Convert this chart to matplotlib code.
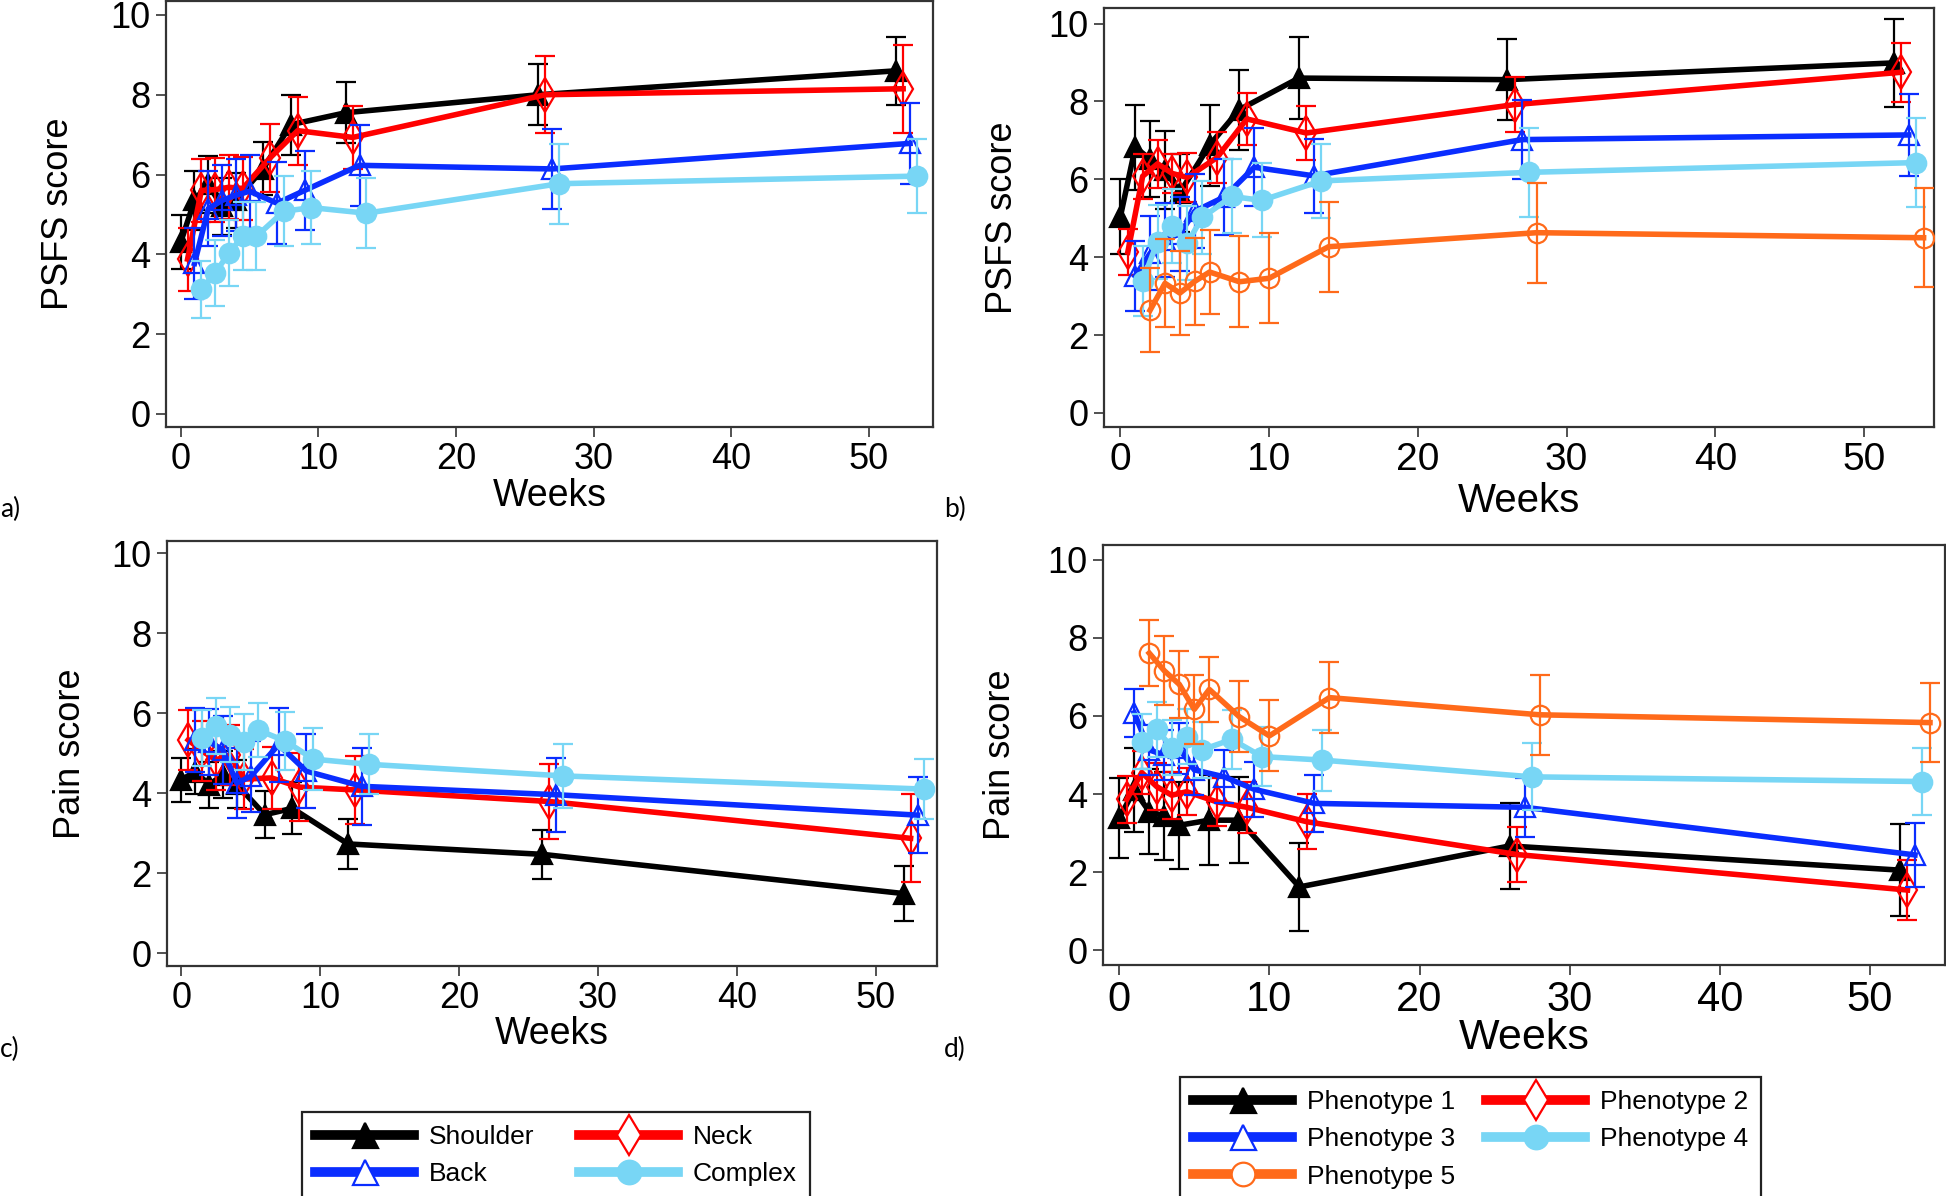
import matplotlib
matplotlib.use("Agg")
import matplotlib.pyplot as plt
from matplotlib.lines import Line2D

plt.rcParams['font.family'] = ['Liberation Sans', 'DejaVu Sans']

weeks = [0, 1, 2, 3, 4, 6, 8, 12, 26, 52]

# a) PSFS by region
psfs_shoulder = [4.3, 5.35, 5.75, 5.2, 5.35, 6.15, 7.25, 7.55, 8.0, 8.6]
psfs_shoulder_err = [0.68, 0.74, 0.71, 0.72, 0.7, 0.67, 0.75, 0.77, 0.77, 0.85]
psfs_neck = [3.88, 5.6, 5.62, 5.68, 5.65, 6.42, 7.1, 6.93, 8.0, 8.15]
psfs_neck_err = [0.79, 0.8, 0.8, 0.8, 0.8, 0.85, 0.85, 0.8, 0.97, 1.1]
psfs_back = [3.77, 5.14, 5.35, 5.48, 5.58, 5.28, 5.6, 6.23, 6.14, 6.78]
psfs_back_err = [0.9, 0.94, 0.88, 0.9, 0.92, 1.03, 1.0, 1.02, 1.0, 1.02]
psfs_complex = [3.12, 3.53, 4.03, 4.45, 4.45, 5.08, 5.17, 5.03, 5.77, 5.96]
psfs_complex_err = [0.71, 0.83, 0.83, 0.85, 0.85, 0.88, 0.92, 0.88, 1.0, 0.93]

# b) PSFS by phenotype
psfs_p1 = [5.04, 6.82, 6.52, 6.25, 5.66, 6.88, 7.79, 8.6, 8.56, 8.99]
psfs_p1_err = [0.96, 1.09, 0.98, 1.0, 1.0, 1.04, 1.03, 1.05, 1.04, 1.12]
psfs_p2 = [4.13, 6.08, 6.4, 6.15, 6.05, 6.56, 7.55, 7.19, 7.92, 8.75]
psfs_p2_err = [0.59, 0.58, 0.62, 0.51, 0.62, 0.65, 0.67, 0.69, 0.7, 0.76]
psfs_p3 = [3.52, 4.1, 4.45, 4.6, 5.18, 5.55, 6.31, 6.09, 7.02, 7.14]
psfs_p3_err = [0.89, 0.95, 0.95, 0.95, 0.95, 0.97, 1.0, 0.95, 1.02, 1.06]
psfs_p4 = [3.4, 4.4, 4.79, 4.36, 5.02, 5.56, 5.46, 5.96, 6.18, 6.43]
psfs_p4_err = [0.9, 0.95, 0.95, 0.95, 0.95, 0.95, 0.95, 0.96, 1.15, 1.14]
psfs_p5 = [2.64, 3.33, 3.08, 3.38, 3.62, 3.37, 3.46, 4.27, 4.63, 4.5]
psfs_p5_err = [1.08, 1.13, 1.07, 1.11, 1.08, 1.17, 1.15, 1.16, 1.28, 1.27]

# c) pain by region
pain_shoulder = [4.33, 4.54, 4.21, 4.46, 4.22, 3.46, 3.62, 2.73, 2.47, 1.49]
pain_shoulder_err = [0.55, 0.56, 0.58, 0.58, 0.6, 0.59, 0.65, 0.62, 0.62, 0.69]
pain_neck = [5.33, 5.05, 4.83, 4.96, 4.35, 4.38, 4.15, 4.08, 3.79, 2.87]
pain_neck_err = [0.74, 0.75, 0.75, 0.75, 0.75, 0.77, 0.85, 0.86, 0.94, 1.1]
pain_back = [5.33, 5.28, 5.08, 4.25, 4.42, 5.21, 4.55, 4.17, 3.96, 3.45]
pain_back_err = [0.8, 0.82, 0.85, 0.88, 0.88, 0.92, 0.92, 0.96, 0.93, 0.95]
pain_complex = [5.38, 5.68, 5.46, 5.27, 5.58, 5.3, 4.85, 4.72, 4.43, 4.1]
pain_complex_err = [0.7, 0.69, 0.68, 0.7, 0.68, 0.72, 0.77, 0.75, 0.79, 0.75]

# d) pain by phenotype
pain_p1 = [3.38, 4.1, 3.55, 3.44, 3.2, 3.33, 3.33, 1.62, 2.67, 2.05]
pain_p1_err = [1.03, 1.07, 1.09, 1.13, 1.11, 1.16, 1.1, 1.13, 1.1, 1.18]
pain_p2 = [3.86, 4.55, 4.19, 3.97, 4.06, 3.8, 3.66, 3.29, 2.45, 1.54]
pain_p2_err = [0.59, 0.56, 0.6, 0.6, 0.6, 0.62, 0.65, 0.71, 0.7, 0.77]
pain_p3 = [6.08, 5.13, 5.0, 5.17, 4.62, 4.44, 4.12, 3.76, 3.66, 2.44]
pain_p3_err = [0.62, 0.65, 0.65, 0.65, 0.65, 0.68, 0.7, 0.73, 0.76, 0.82]
pain_p4 = [5.34, 5.66, 5.19, 5.47, 5.13, 5.4, 4.96, 4.87, 4.44, 4.32]
pain_p4_err = [0.7, 0.7, 0.7, 0.7, 0.72, 0.75, 0.75, 0.78, 0.86, 0.86]
pain_p5 = [7.61, 7.16, 6.81, 6.17, 6.68, 5.98, 5.49, 6.47, 6.03, 5.83]
pain_p5_err = [0.84, 0.88, 0.85, 0.88, 0.84, 0.91, 0.91, 0.91, 1.02, 1.01]

region_labels = ['Shoulder', 'Neck', 'Back', 'Complex']
phenotype_labels = ['Phenotype 1', 'Phenotype 2', 'Phenotype 3', 'Phenotype 4', 'Phenotype 5']

# colour, marker, filled, x-offset (weeks) for each series slot
styles = [
    ('#000000', '^', True, 0.0),
    ('#ff0000', 'd', False, 0.5),
    ('#0a2dff', '^', False, 1.0),
    ('#78d6f5', 'o', True, 1.5),
    ('#ff6a1a', 'o', False, 2.0),
]
msizes = {'^': 15, 'd': 17, 'o': 14}

W, H = 1946, 1196
fig = plt.figure(figsize=(W / 100, H / 100), dpi=100)


def add_ax(l, t, r, b):
    return fig.add_axes([l / W, 1 - b / H, (r - l) / W, (b - t) / H])


def draw(ax, series, errs, xlim, ylim, ylabel, xlab_y, ylab_x, xfs):
    for i, (vals, err) in enumerate(zip(series, errs)):
        c, m, filled, off = styles[i]
        xs = [w + off for w in weeks]
        ax.errorbar(xs, vals, yerr=err, color=c, ecolor=c, lw=4, elinewidth=1.6,
                    capsize=7, capthick=1.6, marker=m, ms=msizes[m],
                    mfc=c if filled else 'none', mec=c, mew=1.6, zorder=3 + i)
    ax.set_xlim(*xlim)
    ax.set_ylim(*ylim)
    ax.set_xticks(range(0, 51, 10))
    ax.set_yticks(range(0, 11, 2))
    ax.tick_params(axis='both', direction='out', length=7, width=1.2, color='#333333',
                   labelsize=26, pad=4, top=False, right=False)
    ax.tick_params(axis='x', labelsize=xfs)
    for s in ax.spines.values():
        s.set_linewidth(1.6)
        s.set_color('#333333')
    ax.set_xlabel('Weeks', fontsize=xfs + 1, va='center')
    ax.set_ylabel(ylabel, fontsize=26, va='center')
    ax.xaxis.set_label_coords(0.5, xlab_y)
    ax.yaxis.set_label_coords(ylab_x, 0.5)


ax_a = add_ax(166, 1, 933, 427)
draw(ax_a, [psfs_shoulder, psfs_neck, psfs_back, psfs_complex],
     [psfs_shoulder_err, psfs_neck_err, psfs_back_err, psfs_complex_err],
     (-1.07, 54.67), (-0.33, 10.35), 'PSFS score', -0.162, -0.14, 26)

ax_b = add_ax(1104, 8, 1934, 427)
draw(ax_b, [psfs_p1, psfs_p2, psfs_p3, psfs_p4, psfs_p5],
     [psfs_p1_err, psfs_p2_err, psfs_p3_err, psfs_p4_err, psfs_p5_err],
     (-1.1, 54.7), (-0.36, 10.4), 'PSFS score', -0.177, -0.122, 28)

ax_c = add_ax(167, 541, 937, 966)
draw(ax_c, [pain_shoulder, pain_neck, pain_back, pain_complex],
     [pain_shoulder_err, pain_neck_err, pain_back_err, pain_complex_err],
     (-1.03, 54.4), (-0.32, 10.3), 'Pain score', -0.16, -0.125, 26)

ax_d = add_ax(1103, 545, 1945, 965)
draw(ax_d, [pain_p1, pain_p2, pain_p3, pain_p4, pain_p5],
     [pain_p1_err, pain_p2_err, pain_p3_err, pain_p4_err, pain_p5_err],
     (-1.08, 55.0), (-0.38, 10.38), 'Pain score', -0.174, -0.122, 30)

# panel letters
for lab, x, y in [('a)', 0, 509), ('b)', 944, 509), ('c)', 0, 1049), ('d)', 944, 1049)]:
    fig.text(x / W, 1 - y / H, lab, fontsize=19, family=['Lato', 'DejaVu Sans'],
             va='center', ha='left')


def proxy(i):
    c, m, filled, off = styles[i]
    return Line2D([], [], color=c, lw=7, marker=m, ms=msizes[m] + 3,
                  mfc=c if filled else 'white', mec=c, mew=1.6)


leg_kw = dict(ncol=2, fontsize=19, handlelength=3.75, handletextpad=0.55,
              labelspacing=0.5, borderpad=0.5, borderaxespad=0,
              fancybox=False, edgecolor='#222222', framealpha=1,
              loc='upper left', numpoints=1)

h1 = [proxy(0), proxy(2), proxy(1), proxy(3)]
l1 = [region_labels[0], region_labels[2], region_labels[1], region_labels[3]]
leg1 = fig.legend(h1, l1, bbox_to_anchor=(302 / W, 1 - 1112 / H), columnspacing=1.7, **leg_kw)
leg1.get_frame().set_linewidth(1.6)

h2 = [proxy(0), proxy(2), proxy(4), proxy(1), proxy(3)]
l2 = [phenotype_labels[0], phenotype_labels[2], phenotype_labels[4],
      phenotype_labels[1], phenotype_labels[3]]
leg2 = fig.legend(h2, l2, bbox_to_anchor=(1180 / W, 1 - 1077 / H), columnspacing=1.2, **leg_kw)
leg2.get_frame().set_linewidth(1.6)

fig.savefig('out.png', dpi=100)
